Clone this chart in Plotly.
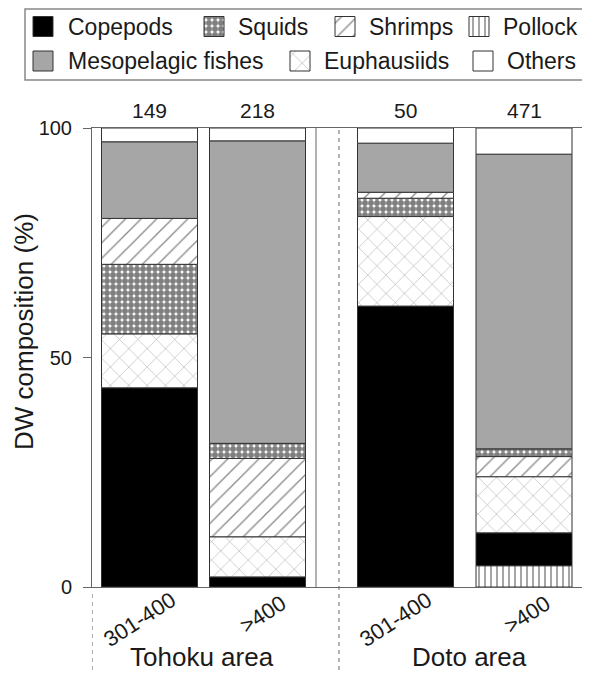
import plotly.graph_objects as go

# ---------------- data ----------------
bar_labels = ["301-400", ">400", "301-400", ">400"]
area_labels = ["Tohoku area", "Doto area"]
sample_counts = [149, 218, 50, 471]
y_ticks = [0, 50, 100]

copepods = [43.4, 2.2, 61.2, 7.2]
euphausiids = [11.7, 8.7, 19.5, 12.2]
squids = [15.2, 3.3, 4.0, 1.7]
shrimps = [10.0, 17.1, 1.3, 4.4]
pollock = [0, 0, 0, 4.6]
mesopelagic = [16.7, 65.9, 10.7, 64.2]
others = [3.0, 2.8, 3.3, 5.7]

values = {
    "Copepods": copepods,
    "Squids": squids,
    "Shrimps": shrimps,
    "Pollock": pollock,
    "Mesopelagic fishes": mesopelagic,
    "Euphausiids": euphausiids,
    "Others": others,
}

# stacking order (bottom -> top) differs between bars
order_a = ["Pollock", "Copepods", "Euphausiids", "Squids", "Shrimps", "Mesopelagic fishes", "Others"]
order_b = ["Pollock", "Copepods", "Euphausiids", "Shrimps", "Squids", "Mesopelagic fishes", "Others"]
stack_orders = [order_a, order_b, order_a, order_b]

# ---------------- layout (pixels, page coordinates) ----------------
OFF = 8                      # default page body margin
W, H = 590 - OFF, 675 - OFF  # visible figure size
X0, X1 = 92, 586
Y_TOP, Y_BOT = 128, 587
bar_centers = [149.5, 257.5, 405.5, 524]
bar_width = 96
label_dx = [-10, 5, -10, 3]
label_y = [619, 614, 619, 614]
FONT = "Liberation Sans, Arial, Helvetica, sans-serif"
TXT = "#1a1a1a"
AX = "#666666"
OUTLINE = "#333333"


def fx(px):
    return (px - OFF) / W


def fy(py):
    return 1 - (py - OFF) / H


styles = {
    "Copepods": dict(color="black"),
    "Squids": dict(color="white", pattern=dict(shape=".", fgcolor="black", bgcolor="white",
                                               size=6, solidity=0.75)),
    "Shrimps": dict(color="white", pattern=dict(shape="/", fgcolor="#111111", bgcolor="white",
                                                size=11, solidity=0.12)),
    "Pollock": dict(color="white", pattern=dict(shape="|", fgcolor="#111111", bgcolor="white",
                                                size=6, solidity=0.25)),
    "Mesopelagic fishes": dict(color="#a6a6a6"),
    "Euphausiids": dict(color="white", pattern=dict(shape="x", fgcolor="#333333", bgcolor="white",
                                                    size=13, solidity=0.07)),
    "Others": dict(color="white"),
}

# compute bases from stacking order
bases = {name: [0.0] * len(bar_labels) for name in values}
for i, order in enumerate(stack_orders):
    cum = 0.0
    for name in order:
        bases[name][i] = cum
        cum += values[name][i]

fig = go.Figure()
for name, vals in values.items():
    fig.add_trace(go.Bar(
        x=bar_centers,
        y=[v if v > 0 else None for v in vals],
        base=bases[name],
        width=bar_width,
        name=name,
        marker=dict(line=dict(color=OUTLINE, width=1), **styles[name]),
        showlegend=False,
        xaxis="x", yaxis="y",
    ))

# ---------------- custom legend ----------------
LEG_H = 85
row_centers = [26.5, 61]
SW = 20
legend_items = [
    ("Copepods", 0, 33, 66),
    ("Squids", 0, 204, 236),
    ("Shrimps", 0, 335, 367),
    ("Pollock", 0, 469, 501),
    ("Mesopelagic fishes", 1, 33, 66),
    ("Euphausiids", 1, 290, 322),
    ("Others", 1, 473, 505),
]
annotations = []
for name, row, sx, tx in legend_items:
    fig.add_trace(go.Bar(
        x=[sx + SW / 2], y=[SW], base=[row_centers[row] - SW / 2], width=SW,
        marker=dict(line=dict(color=OUTLINE, width=1), **styles[name]),
        showlegend=False, xaxis="x2", yaxis="y2", hoverinfo="skip",
    ))
    annotations.append(dict(
        text=name, x=fx(tx), y=fy(row_centers[row]), xref="paper", yref="paper",
        xanchor="left", yanchor="middle", showarrow=False,
        font=dict(family=FONT, size=23, color=TXT),
    ))

# counts above bars
for xc, n in zip(bar_centers, sample_counts):
    annotations.append(dict(
        text=str(n), x=xc, xref="x", y=fy(110), yref="paper",
        xanchor="center", yanchor="middle", showarrow=False,
        font=dict(family=FONT, size=21, color=TXT),
    ))

# rotated bar labels
for xc, dx, ly, lab in zip(bar_centers, label_dx, label_y, bar_labels):
    annotations.append(dict(
        text=lab, x=xc + dx, xref="x", y=fy(ly), yref="paper",
        xanchor="center", yanchor="middle", textangle=-33, showarrow=False,
        font=dict(family=FONT, size=22, color=TXT),
    ))

# area labels
area_x = [202, 469]
for ax_, lab in zip(area_x, area_labels):
    annotations.append(dict(
        text=lab, x=ax_, xref="x", y=fy(657), yref="paper",
        xanchor="center", yanchor="middle", showarrow=False,
        font=dict(family=FONT, size=26, color=TXT),
    ))

# y title
annotations.append(dict(
    text="DW composition (%)", x=fx(24), y=fy(332), xref="paper", yref="paper",
    xanchor="center", yanchor="middle", textangle=-90, showarrow=False,
    font=dict(family=FONT, size=26, color=TXT),
))

shapes = [
    # legend box
    dict(type="rect", xref="paper", yref="paper", x0=fx(25), x1=fx(585),
         y0=fy(80), y1=fy(OFF + 1), line=dict(color="#888888", width=1.5)),
    # inner solid line (end of Tohoku panel)
    dict(type="line", xref="x", yref="y", x0=316, x1=316, y0=0, y1=100,
         line=dict(color=AX, width=1)),
    # dashed separators
    dict(type="line", xref="x", yref="paper", x0=339, x1=339, y0=fy(670), y1=fy(Y_TOP),
         line=dict(color=AX, width=1, dash="4px,4px")),
    dict(type="line", xref="x", yref="paper", x0=X0, x1=X0, y0=fy(670), y1=fy(592),
         line=dict(color=AX, width=1, dash="4px,4px")),
    dict(type="line", xref="x", yref="paper", x0=X1 - 0.5, x1=X1 - 0.5, y0=fy(670), y1=fy(592),
         line=dict(color=AX, width=1, dash="4px,4px")),
]

fig.update_layout(
    width=W, height=H,
    margin=dict(l=0, r=0, t=0, b=0, autoexpand=False),
    paper_bgcolor="white", plot_bgcolor="white",
    barmode="overlay",
    showlegend=False,
    font=dict(family=FONT, color=TXT),
    xaxis=dict(domain=[fx(X0), fx(X1)], range=[X0, X1], anchor="y",
               showline=True, linecolor=AX, linewidth=1, mirror=True,
               showticklabels=False, ticks="",
               showgrid=False, zeroline=False, fixedrange=True, automargin=False),
    yaxis=dict(domain=[fy(Y_BOT), fy(Y_TOP)], range=[0, 100], anchor="x",
               showline=True, linecolor=AX, linewidth=1, mirror=True,
               ticks="outside", ticklen=8, tickcolor=AX, tickvals=y_ticks,
               ticklabelstandoff=7,
               tickfont=dict(family=FONT, size=20, color=TXT),
               showgrid=False, zeroline=False, fixedrange=True, automargin=False),
    xaxis2=dict(domain=[0, 1], range=[OFF, W + OFF], anchor="y2", visible=False, fixedrange=True),
    yaxis2=dict(domain=[fy(LEG_H), 1], range=[LEG_H, OFF], anchor="x2", visible=False,
                fixedrange=True),
    annotations=annotations,
    shapes=shapes,
)

fig.write_html("out.html")
